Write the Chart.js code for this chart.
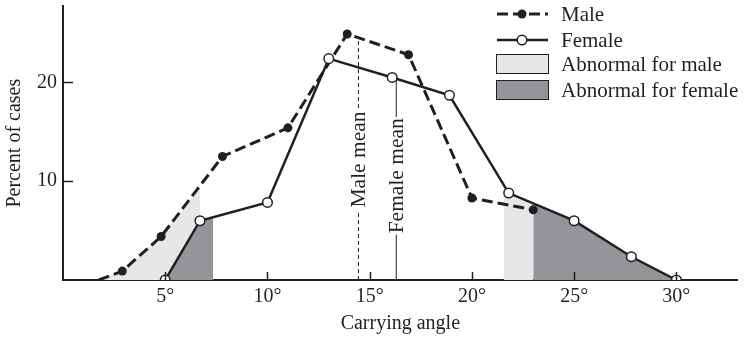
<!DOCTYPE html>
<html>
<head>
<meta charset="utf-8">
<script src="https://cdn.jsdelivr.net/npm/chart.js@4.4.1/dist/chart.umd.min.js"></script>
<style>
  body { margin: 0; background: #fff; }
  canvas { display: block; }
</style>
</head>
<body>
<canvas id="myChart" width="744" height="340"></canvas>
<script>
// carrying angle (degrees) vs percent of cases
const maleAngle = [1.75, 2.9, 4.8, 7.8, 11, 13.9, 16.9, 20, 23];
const malePct = [0, 0.9, 4.4, 12.5, 15.4, 24.9, 22.8, 8.3, 7.1];
const femaleAngle = [5, 6.7, 10, 13, 16.1, 18.9, 21.8, 25, 27.8, 30];
const femalePct = [0, 6.0, 7.85, 22.4, 20.5, 18.7, 8.8, 6.0, 2.35, 0];

// shaded "abnormal" zones (outline points)
const maleLowX = [1.75, 2.9, 4.8, 6.7, 6.7];
const maleLowY = [0, 0.9, 4.4, 9.3, 0];
const maleHighX = [21.55, 21.55, 21.8, 23, 23];
const maleHighY = [0, 8.9, 8.8, 7.75, 0];
const femaleLowX = [5, 6.7, 7.35, 7.35];
const femaleLowY = [0, 6.0, 6.4, 0];
const femaleHighX = [23, 23, 25, 27.8, 30];
const femaleHighY = [0, 7.75, 6.0, 2.35, 0];

// means
const maleMean = 14.45;
const maleMeanTop = 24.4;
const maleMeanGap = [7.0, 17.4];
const femaleMean = 16.3;
const femaleMeanTop = 20.4;
const femaleMeanGap = [4.6, 16.5];

const xTicks = [5, 10, 15, 20, 25, 30];
const yTicks = [10, 20];

const ink = '#231f20';
const lightFill = '#e6e7e8';
const darkFill = '#939598';

const pts = (xs, ys) => xs.map((x, i) => ({ x: x, y: ys[i] }));
const meanLine = (x, top, gap) => [
  { x: x, y: 0 }, { x: x, y: gap[0] }, { x: x, y: null },
  { x: x, y: gap[1] }, { x: x, y: top }
];

const fillSet = (data, color, order) => ({
  data: data, backgroundColor: color, borderWidth: 0, pointRadius: 0,
  fill: 'origin', tension: 0, order: order
});

Chart.defaults.font.family = '"Liberation Serif", "DejaVu Serif", serif';
Chart.defaults.font.size = 20;
Chart.defaults.color = ink;

const overlay = {
  id: 'overlay',
  afterDatasetsDraw(chart) {
    const ctx = chart.ctx;
    const xs = chart.scales.x, ys = chart.scales.y;
    const area = chart.chartArea;
    ctx.save();
    // inward tick marks
    ctx.strokeStyle = ink;
    ctx.lineWidth = 1.5;
    ctx.beginPath();
    xTicks.forEach(v => {
      const px = Math.round(xs.getPixelForValue(v)) + 0.5;
      ctx.moveTo(px, area.bottom);
      ctx.lineTo(px, area.bottom - 8);
    });
    yTicks.forEach(v => {
      const py = Math.round(ys.getPixelForValue(v)) + 0.5;
      ctx.moveTo(area.left, py);
      ctx.lineTo(area.left + 10, py);
    });
    ctx.stroke();

    // mean labels
    ctx.fillStyle = ink;
    ctx.font = '21.5px "Liberation Serif", serif';
    ctx.textAlign = 'center';
    ctx.textBaseline = 'middle';
    const lbl = (text, x, gap) => {
      ctx.save();
      ctx.translate(xs.getPixelForValue(x) + 1, ys.getPixelForValue((gap[0] + gap[1]) / 2));
      ctx.rotate(-Math.PI / 2);
      ctx.fillText(text, 0, 0);
      ctx.restore();
    };
    lbl('Male mean', maleMean, maleMeanGap);
    lbl('Female mean', femaleMean, femaleMeanGap);

    // legend
    ctx.font = '21px "Liberation Serif", serif';
    const lx0 = 497, lx1 = 548, tx = 561;
    ctx.textAlign = 'left';
    ctx.lineWidth = 3;
    ctx.setLineDash([11, 5]);
    ctx.beginPath();
    ctx.moveTo(lx0, 14); ctx.lineTo(lx1, 14);
    ctx.stroke();
    ctx.setLineDash([]);
    ctx.beginPath();
    ctx.arc(522, 14, 4.5, 0, Math.PI * 2);
    ctx.fill();
    ctx.fillText('Male', tx, 15);

    ctx.lineWidth = 2.5;
    ctx.beginPath();
    ctx.moveTo(lx0, 40); ctx.lineTo(lx1, 40);
    ctx.stroke();
    ctx.beginPath();
    ctx.arc(522, 40, 4.8, 0, Math.PI * 2);
    ctx.fillStyle = '#fff';
    ctx.fill();
    ctx.lineWidth = 1.5;
    ctx.stroke();
    ctx.fillStyle = ink;
    ctx.fillText('Female', tx, 41);

    ctx.lineWidth = 1;
    ctx.fillStyle = lightFill;
    ctx.fillRect(496.5, 54.5, 52, 19);
    ctx.strokeRect(496.5, 54.5, 52, 19);
    ctx.fillStyle = darkFill;
    ctx.fillRect(496.5, 80.5, 52, 19);
    ctx.strokeRect(496.5, 80.5, 52, 19);
    ctx.fillStyle = ink;
    ctx.fillText('Abnormal for male', tx, 65);
    ctx.fillText('Abnormal for female', tx, 91);
    ctx.restore();
  }
};

new Chart(document.getElementById('myChart').getContext('2d'), {
  type: 'line',
  data: {
    datasets: [
      {
        label: 'Male',
        data: pts(maleAngle, malePct),
        borderColor: ink, borderWidth: 3, borderDash: [11, 5],
        pointRadius: maleAngle.map((v, i) => i === 0 ? 0 : 4.5),
        pointBackgroundColor: ink, pointBorderColor: ink, pointBorderWidth: 0,
        fill: false, tension: 0, order: 1
      },
      {
        label: 'Female',
        data: pts(femaleAngle, femalePct),
        borderColor: ink, borderWidth: 2.5,
        pointRadius: 4.8, pointBackgroundColor: '#fff',
        pointBorderColor: ink, pointBorderWidth: 1.5,
        fill: false, tension: 0, order: 0
      },
      {
        label: 'Male mean',
        data: meanLine(maleMean, maleMeanTop, maleMeanGap),
        borderColor: ink, borderWidth: 1, borderDash: [4, 3],
        pointRadius: 0, fill: false, spanGaps: false, order: 2
      },
      {
        label: 'Female mean',
        data: meanLine(femaleMean, femaleMeanTop, femaleMeanGap),
        borderColor: ink, borderWidth: 1,
        pointRadius: 0, fill: false, spanGaps: false, order: 2
      },
      fillSet(pts(femaleLowX, femaleLowY), darkFill, 5),
      fillSet(pts(femaleHighX, femaleHighY), darkFill, 5),
      fillSet(pts(maleLowX, maleLowY), lightFill, 6),
      fillSet(pts(maleHighX, maleHighY), lightFill, 6)
    ]
  },
  options: {
    responsive: false,
    animation: false,
    layout: { padding: { top: 5, right: 4, left: 0, bottom: 0 } },
    plugins: { legend: { display: false }, tooltip: { enabled: false } },
    scales: {
      x: {
        type: 'linear', min: 0, max: 33,
        grid: { display: false, drawTicks: false },
        border: { display: true, color: ink, width: 2 },
        afterBuildTicks: s => { s.ticks = xTicks.map(v => ({ value: v })); },
        afterFit: s => { s.height = 60; s.paddingLeft = 0; s.paddingRight = 0; },
        ticks: { autoSkip: false, maxRotation: 0, padding: 5, callback: v => v + '°' },
        title: { display: true, text: 'Carrying angle', padding: { top: 4, bottom: 4 } }
      },
      y: {
        min: 0, max: 27.7,
        grid: { display: false, drawTicks: false },
        border: { display: true, color: ink, width: 2 },
        afterBuildTicks: s => { s.ticks = yTicks.map(v => ({ value: v })); },
        afterFit: s => { s.width = 63; s.paddingTop = 0; s.paddingBottom = 0; },
        ticks: { padding: 6 },
        title: { display: true, text: 'Percent of cases', padding: { top: 3, bottom: 3 } }
      }
    }
  },
  plugins: [overlay]
});
</script>
</body>
</html>
